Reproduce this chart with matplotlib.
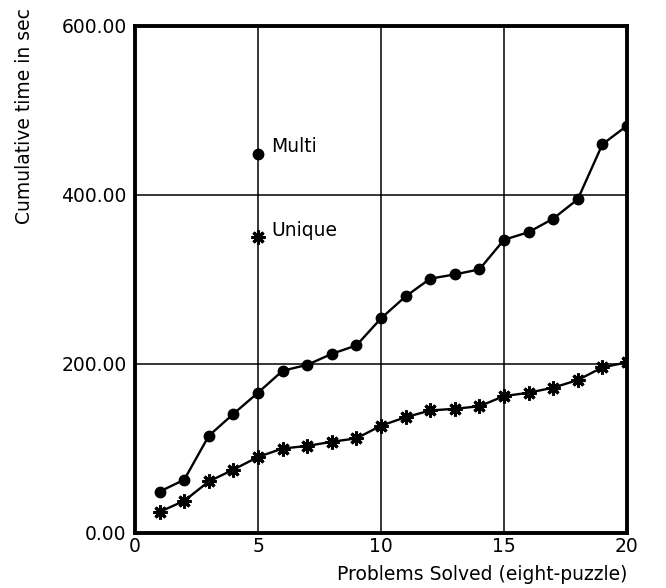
import matplotlib
matplotlib.use("Agg")
import matplotlib.pyplot as plt

plt.rcParams['font.family'] = ['DejaVu Sans']

problems = list(range(1, 21))
multi = [49, 63, 115, 141, 166, 192, 199, 212, 222, 254, 280, 301, 306, 312, 347, 356, 372, 395, 460, 482]
unique = [25, 38, 61, 75, 90, 100, 103, 108, 112, 127, 137, 145, 147, 150, 162, 166, 172, 181, 196, 202]
legend_x = 5
legend_multi_y = 449
legend_unique_y = 350
xticks = [0, 5, 10, 15, 20]
yticks = [0, 200, 400, 600]
ytick_labels = ["0.00", "200.00", "400.00", "600.00"]

fs = 13.5

fig = plt.figure(figsize=(6.66, 5.88), dpi=100)
ax = fig.add_axes([135/666, 1-533/588, (627-135)/666, (533-26)/588])

ax.set_xlim(0, 20)
ax.set_ylim(0, 600)
ax.set_xticks(xticks)
ax.set_yticks(yticks)
ax.set_yticklabels(ytick_labels)
ax.tick_params(length=0, labelsize=fs)
ax.tick_params(axis='y', pad=6)
ax.tick_params(axis='x', pad=3)
ax.grid(True, color='black', linewidth=1.1)
ax.set_axisbelow(True)
for s in ax.spines.values():
    s.set_linewidth(2.8)

ax.plot(problems, multi, color='black', linewidth=1.7, marker='o', markersize=7.5, zorder=3)
ax.plot(problems, unique, color='black', linewidth=1.7, marker=(8, 2, 0), markersize=10,
        markeredgewidth=2.2, zorder=3)

ax.plot([legend_x], [legend_multi_y], 'o', color='black', markersize=7.5, zorder=3)
ax.plot([legend_x], [legend_unique_y], marker=(8, 2, 0), color='black', markersize=10,
        markeredgewidth=2.2, zorder=3)
ax.text(5.55, 457, "Multi", fontsize=fs, va='center', ha='left')
ax.text(5.55, 358, "Unique", fontsize=fs, va='center', ha='left')

fig.text(25/666, 1-8/588, "Cumulative time in sec", rotation=90, fontsize=fs,
         ha='center', va='top')
fig.text(627/666, 1-575/588, "Problems Solved (eight-puzzle)", fontsize=fs,
         ha='right', va='center')

fig.savefig("out.png", dpi=100)
